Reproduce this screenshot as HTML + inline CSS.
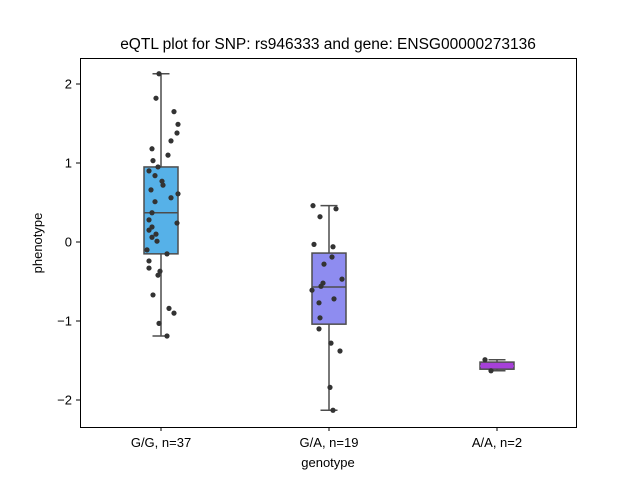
<!DOCTYPE html>
<html><head><meta charset="utf-8"><style>
body{margin:0;background:#fff;font-family:"Liberation Sans",sans-serif}
svg text{font-family:"Liberation Sans",sans-serif;fill:#000}
</style></head><body>
<svg id="c" width="640" height="480">
<rect x="0" y="0" width="640" height="480" fill="#fff"/>
<text x="328" y="49" font-size="15.5" text-anchor="middle">eQTL plot for SNP: rs946333 and gene: ENSG00000273136</text>
<g id="plot"></g>
<rect x="80.5" y="58.5" width="496" height="369" fill="none" stroke="#000" stroke-width="1"/>
<text x="328" y="467" font-size="13" text-anchor="middle">genotype</text>
<text x="42" y="243" font-size="13" text-anchor="middle" transform="rotate(-90 42 243)">phenotype</text>
</svg>
<script>
const categories=["G/G, n=37","G/A, n=19","A/A, n=2"];
const boxColors=["#56b1e8","#8e8cf0","#a640d8"];
const q1=[-0.15,-1.04,-1.61];
const medians=[0.37,-0.57,-1.57];
const q3=[0.95,-0.14,-1.52];
const whiskLo=[-1.19,-2.13,-1.63];
const whiskHi=[2.13,0.46,-1.49];
const ggValues=[2.13,1.82,1.65,1.49,1.38,1.28,1.18,1.10,1.03,0.95,0.90,0.84,0.77,0.72,0.66,0.61,0.56,0.51,0.37,0.28,0.24,0.15,0.19,0.06,0.10,0.01,-0.10,-0.15,-0.24,-0.33,-0.37,-0.42,-0.67,-0.84,-0.90,-1.03,-1.19];
const ggJitter=[-2,-5,13,17,16,10,-9,7,-8,-3,-12,-6,1,2,-10,17,10,-6,-9,-12,16,-12,-9,-9,-5,-4,-14,6,-12,-12,-1,-3,-8,8,13,-2,6];
const gaValues=[0.46,0.42,0.32,-0.03,-0.06,-0.19,-0.28,-0.47,-0.52,-0.56,-0.61,-0.72,-0.77,-0.96,-1.10,-1.28,-1.38,-1.84,-2.13];
const gaJitter=[-16,7,-9,-15,4,3,-5,13,-6,-8,-17,5,-10,-9,-10,2,11,1,4];
const aaValues=[-1.49,-1.63];
const aaJitter=[-12,-6];
const yTicks=[-2,-1,0,1,2];
const yTickLabels=["\u22122","\u22121","0","1","2"];

const NS="http://www.w3.org/2000/svg";
const g=document.getElementById('plot');
const xS=i=>161+i*168;
const yS=v=>242-v*79;
function mk(t,a){const e=document.createElementNS(NS,t);for(const k in a)e.setAttribute(k,a[k]);g.appendChild(e);return e;}
yTicks.forEach((t,i)=>{
  const l=mk('line',{x1:76,x2:80,y1:yS(t),y2:yS(t),stroke:'#000'});
  
  
  const tx=mk('text',{x:72,y:yS(t)+4.5,'font-size':13,'text-anchor':'end'});
  tx.textContent=yTickLabels[i];
  
  
});
categories.forEach((c,i)=>{
  const x=xS(i);
  const l=mk('line',{x1:x,x2:x,y1:427,y2:431,stroke:'#000'});
  
  
  const tx=mk('text',{x:x,y:447,'font-size':13,'text-anchor':'middle'});
  tx.textContent=c;
  
  
  const w=34,st='#4d4d4d';
  const wl=mk('line',{x1:x,x2:x,y1:yS(whiskHi[i]),y2:yS(whiskLo[i]),stroke:st,'stroke-width':1.5});
  
  
  [whiskHi[i],whiskLo[i]].forEach(v=>{
    const cap=mk('line',{x1:x-w/4,x2:x+w/4,y1:yS(v),y2:yS(v),stroke:st,'stroke-width':1.5});
    
    
  });
  const b=mk('rect',{x:x-w/2,y:yS(q3[i]),width:w,height:yS(q1[i])-yS(q3[i]),fill:boxColors[i],stroke:st,'stroke-width':1.5});
  
  
  const m=mk('line',{x1:x-w/2,x2:x+w/2,y1:yS(medians[i]),y2:yS(medians[i]),stroke:i==2?boxColors[i]:st,'stroke-width':1.5});
  
  
});
[[ggValues,ggJitter],[gaValues,gaJitter],[aaValues,aaJitter]].forEach((p,i)=>{
  p[0].forEach((v,j)=>{
    const d=mk('circle',{cx:xS(i)+p[1][j],cy:yS(v),r:2.6,fill:'#333'});
    
    
  });
});
</script>
</body></html>
